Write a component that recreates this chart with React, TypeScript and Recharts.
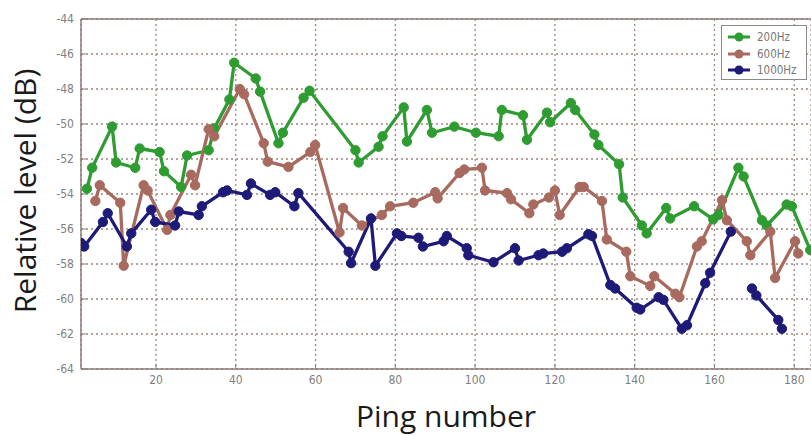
import React from 'react';
import { LineChart, Line, XAxis, YAxis, CartesianGrid, ReferenceLine } from 'recharts';

const pings200 = [2.7, 4.0, 9.0, 10, 14.8, 15.9, 20.9, 22, 26.3, 27.8, 33.2, 34.6, 38.4, 39.6, 45, 46.1, 50.7, 51.8, 57, 58.5, 70, 70.8, 75.8, 76.8, 82.1, 82.9, 87.9, 89.2, 94.8, 100.2, 105.9, 106.7, 112, 113, 118, 118.8, 124, 125.1, 129.9, 130.9, 136.1, 137, 141.8, 143, 147.9, 148.9, 154.9, 159.7, 161, 166, 167.3, 171.9, 173.1, 178.1, 179.4, 184];
const level200 = [-53.7, -52.5, -50.15, -52.2, -52.5, -51.4, -51.6, -52.7, -53.6, -51.8, -51.5, -50.25, -48.6, -46.5, -47.4, -48.15, -51.1, -50.5, -48.5, -48.1, -51.5, -52.2, -51.3, -50.7, -49.05, -51.0, -49.2, -50.5, -50.15, -50.5, -50.7, -49.2, -49.5, -50.9, -49.35, -49.9, -48.8, -49.2, -50.6, -51.2, -52.3, -54.2, -55.8, -56.25, -54.8, -55.4, -54.7, -55.45, -55.2, -52.5, -53.0, -55.5, -55.8, -54.6, -54.7, -57.2];

const pings600 = [4.8, 5.9, 11.05, 11.9, 16.9, 17.9, 22.8, 23.6, 28.8, 29.8, 33.2, 34.6, 41, 42.1, 47, 48, 53.2, 58.7, 59.9, 66, 66.9, 71.6, 76.6, 78.7, 84.5, 90, 90.6, 96.1, 97.3, 101.7, 102.5, 108, 109, 113.6, 114.6, 118.5, 120, 121.2, 126.2, 127.2, 131.8, 133, 137.9, 138.9, 143.9, 144.9, 150.2, 151.2, 155.6, 156.8, 161.9, 163.1, 168.1, 169, 174, 175.2, 180.2, 181];
const level600 = [-54.4, -53.5, -54.5, -58.1, -53.5, -53.8, -56.05, -55.2, -52.9, -53.5, -50.3, -50.7, -48.0, -48.3, -51.1, -52.15, -52.45, -51.6, -51.2, -56.2, -54.8, -55.8, -55.2, -54.7, -54.5, -53.9, -54.25, -52.8, -52.6, -52.5, -53.8, -53.95, -54.3, -55.1, -54.6, -54.2, -53.8, -55.2, -53.6, -53.6, -54.4, -56.6, -57.3, -58.7, -59.25, -58.7, -59.7, -59.9, -57.0, -56.7, -54.35, -55.5, -56.7, -57.5, -56.15, -58.8, -56.7, -57.4];

const pings1000 = [1.2, 2, 6.7, 7.9, 12.7, 13.8, 18.8, 19.8, 24.8, 25.7, 30.7, 31.5, 36.8, 37.8, 42.8, 43.8, 48.6, 49.9, 54.7, 55.7, 68.3, 68.9, 73.9, 75, 80.4, 81.5, 85.8, 86.9, 92.1, 92.9, 97.9, 98.3, 104.6, 110, 110.9, 115.9, 117.1, 121.8, 123, 128.4, 129.3, 133.9, 135.1, 140.5, 141.4, 146, 147.2, 151.8, 153.1, 157.7, 158.9, 164.1, 166.5, 169.4, 170.5, 176, 176.9];
const level1000: (number | null)[] = [-56.8, -57.0, -55.6, -55.1, -57.0, -56.25, -54.9, -55.6, -55.8, -55.0, -55.2, -54.7, -53.9, -53.8, -54.05, -53.4, -54.05, -53.9, -54.7, -53.95, -57.3, -57.95, -55.4, -58.1, -56.25, -56.4, -56.5, -57.0, -56.7, -56.4, -57.1, -57.5, -57.9, -57.1, -57.8, -57.5, -57.4, -57.3, -57.1, -56.3, -56.4, -59.2, -59.4, -60.5, -60.6, -59.9, -60.05, -61.7, -61.5, -59.1, -58.5, -56.15, null, -59.4, -59.8, -61.2, -61.7];

const xTicks = [20, 40, 60, 80, 100, 120, 140, 160, 180];
const yTicks = [-64, -62, -60, -58, -56, -54, -52, -50, -48, -46, -44];

const seriesNames = ['200Hz', '600Hz', '1000Hz'];
const seriesColors = ['#2f9c32', '#a86a5e', '#1e1a78'];

const toRows = (xs: number[], ys: (number | null)[]) => xs.map((x, i) => ({ x, y: ys[i] }));
const data200 = toRows(pings200, level200);
const data600 = toRows(pings600, level600);
const data1000 = toRows(pings1000, level1000);
const seriesData = [data200, data600, data1000];

const tickFont = '"Liberation Sans Narrow", "Arial Narrow", "DejaVu Sans Condensed", sans-serif';

const LegendBox = () => (
  <div style={{ position: 'absolute', left: 721, top: 25, width: 86, height: 55, border: '1px solid #8a8a8a', background: '#fff', boxSizing: 'border-box', padding: '3px 0 0 4px' }}>
    {seriesNames.map((n, i) => (
      <div key={n} style={{ display: 'flex', alignItems: 'center', height: 16.5 }}>
        <svg width={26} height={12} style={{ marginRight: 5 }}>
          <line x1={2} y1={6} x2={24} y2={6} stroke={seriesColors[i]} strokeWidth={3} />
          <circle cx={13} cy={6} r={4.5} fill={seriesColors[i]} />
        </svg>
        <span style={{ fontFamily: tickFont, fontSize: 11.5, color: '#777', lineHeight: '12px' }}>{n}</span>
      </div>
    ))}
  </div>
);

export default function App() {
  return (
    <div style={{ position: 'absolute', left: 0, top: 0, width: 811, height: 436, background: '#fff' }}>
      <LineChart width={811} height={436} margin={{ top: 19, right: 0, bottom: 0, left: 0 }}>
        <CartesianGrid stroke="#9c8580" strokeDasharray="2 3" strokeWidth={1.3} />
        <XAxis
          type="number"
          dataKey="x"
          domain={[1.2, 184.2]}
          ticks={xTicks}
          allowDataOverflow
          height={67}
          tickSize={-5}
          tickMargin={11}
          axisLine={{ stroke: '#8b7d7a', strokeWidth: 1.5 }}
          tickLine={{ stroke: '#8b7d7a' }}
          tick={{ fill: '#808080', fontSize: 12, fontFamily: tickFont }}
        />
        <YAxis
          type="number"
          dataKey="y"
          domain={[-64, -44]}
          ticks={yTicks}
          allowDataOverflow
          width={81}
          tickSize={-5}
          tickMargin={12}
          axisLine={{ stroke: '#8b7d7a', strokeWidth: 1.5 }}
          tickLine={{ stroke: '#8b7d7a' }}
          tick={{ fill: '#808080', fontSize: 12, fontFamily: tickFont }}
        />
        <ReferenceLine y={-44} stroke="#8b7d7a" strokeWidth={1.5} />
        {seriesData.map((d, i) => (
          <Line
            key={seriesNames[i]}
            data={d}
            dataKey="y"
            name={seriesNames[i]}
            stroke={seriesColors[i]}
            strokeWidth={3.3}
            dot={{ r: 4.7, fill: seriesColors[i], stroke: seriesColors[i], strokeWidth: 1 }}
            activeDot={false}
            connectNulls={false}
            isAnimationActive={false}
          />
        ))}
        <text x={36} y={191} transform="rotate(-90, 36, 191)" textAnchor="middle" fontSize={30} fontFamily='"Open Sans", sans-serif' fill="#1a1a1a">Relative level (dB)</text>
        <text x={446} y={427} textAnchor="middle" fontSize={30} fontFamily='"Open Sans", sans-serif' fill="#1a1a1a">Ping number</text>
      </LineChart>
      <LegendBox />
    </div>
  );
}
